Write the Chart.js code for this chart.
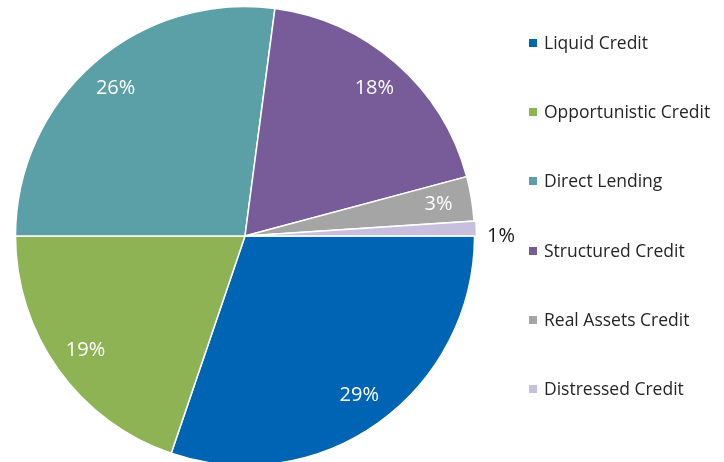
<!DOCTYPE html>
<html>
<head>
<meta charset="utf-8">
<script src="https://cdn.jsdelivr.net/npm/chart.js@4.4.1/dist/chart.umd.min.js"></script>
<style>
  html, body { margin: 0; padding: 0; background: #fff; overflow: hidden; }
  #wrap { position: relative; width: 724px; height: 462px; overflow: hidden; }
  #pie { position: absolute; left: 0; top: 0; }
  #legend { position: absolute; left: 529px; top: 0; margin: 0; padding: 0; list-style: none;
            font-family: "Open Sans", sans-serif; font-size: 17.5px; color: #262626; }
  #legend li { position: absolute; left: 0; white-space: nowrap; height: 24px; line-height: 24px; }
  #legend span.box { display: inline-block; width: 8px; height: 8px; margin-right: 7px; vertical-align: 2px; }
</style>
</head>
<body>
<div id="wrap">
  <canvas id="pie" width="724" height="470"></canvas>
  <ul id="legend"></ul>
</div>
<script>
const categories = ["Liquid Credit", "Opportunistic Credit", "Direct Lending", "Structured Credit", "Real Assets Credit", "Distressed Credit"];
const shares = [29, 19, 26, 18, 3, 1]; // % of portfolio
const colors = ["#0064b4", "#8db354", "#5b9fa7", "#775c99", "#a5a5a5", "#c8bedd"];
const offsets = [0, 0, 0, 0, 0, 4]; // distressed slice is pulled out a little

// percentage labels: inside the slice, or outside for the tiny ones
const sliceLabels = {
  id: "sliceLabels",
  afterDatasetsDraw(chart) {
    const { ctx } = chart;
    const meta = chart.getDatasetMeta(0);
    ctx.save();
    ctx.font = "20px 'Open Sans', sans-serif";
    meta.data.forEach((arc, i) => {
      const { x, y, startAngle, endAngle, outerRadius } = arc.getProps(["x", "y", "startAngle", "endAngle", "outerRadius"], true);
      const mid = (startAngle + endAngle) / 2;
      const text = shares[i] + "%";
      if (shares[i] >= 2) {
        const r = outerRadius * 0.855;
        ctx.fillStyle = "#ffffff";
        ctx.textAlign = "center";
        ctx.textBaseline = "middle";
        ctx.fillText(text, x + Math.cos(mid) * r, y + Math.sin(mid) * r);
      } else {
        const r = outerRadius * 1.055;
        ctx.fillStyle = "#1a1a1a";
        ctx.textAlign = "left";
        ctx.textBaseline = "top";
        ctx.fillText(text, x + Math.cos(mid) * r, y + Math.sin(mid) * r - 2);
      }
    });
    ctx.restore();
  }
};

new Chart(document.getElementById("pie"), {
  type: "pie",
  data: {
    labels: categories,
    datasets: [{
      data: shares,
      backgroundColor: colors,
      borderColor: "#ffffff",
      borderWidth: 1.5,
      hoverBorderWidth: 1.5,
      offset: offsets,
      hoverOffset: 0
    }]
  },
  options: {
    responsive: false,
    animation: false,
    devicePixelRatio: 1,
    rotation: 90, // start at 3 o'clock
    layout: { padding: { left: 12.75, right: 246.75, top: 3.75, bottom: 1.75 } },
    plugins: {
      legend: { display: false },
      tooltip: { enabled: false }
    }
  },
  plugins: [sliceLabels]
});

// legend on the right, one row per category
const legend = document.getElementById("legend");
categories.forEach((name, i) => {
  const li = document.createElement("li");
  li.style.top = (30 + i * 69.2) + "px";
  li.innerHTML = '<span class="box" style="background:' + colors[i] + '"></span>' + name;
  legend.appendChild(li);
});
</script>
</body>
</html>
